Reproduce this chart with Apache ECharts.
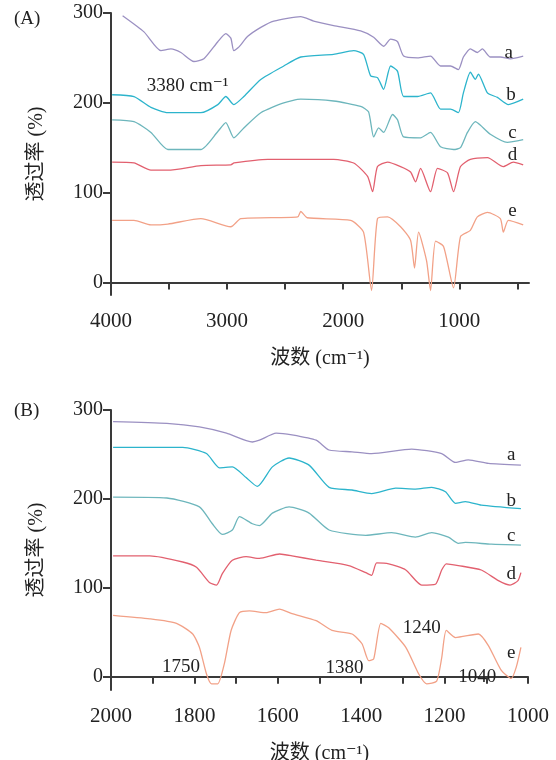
<!DOCTYPE html>
<html>
<head>
<meta charset="utf-8">
<script src="https://cdn.jsdelivr.net/npm/echarts@6/dist/echarts.min.js"></script>
<style>
  html, body { margin: 0; padding: 0; background: #fff; }
  #chart { width: 556px; height: 760px; }
</style>
</head>
<body>
<div id="chart"></div>
<script>
// ---- panel A: full spectra, 4000 - 400 cm-1 ----
const aWaveA = [3900, 3716, 3570, 3484, 3398, 3286, 3200, 3080, 3011, 2968, 2942, 2900, 2822, 2710, 2598, 2366, 2254, 2083, 1850, 1738, 1652, 1592, 1532, 1480, 1360, 1248, 1162, 1076, 1008, 965, 905, 845, 802, 733, 647, 560, 450];
const aValA = [297, 279, 258, 260, 256, 246, 249, 268, 277, 272, 258, 262, 274, 284, 291, 296, 291, 286, 280, 273, 263, 271, 268, 252, 250, 252, 241, 241, 237, 251, 260, 256, 260, 251, 251, 249, 252];

const bWaveA = [3990, 3802, 3656, 3510, 3226, 3080, 3011, 2942, 2856, 2710, 2512, 2366, 2083, 1910, 1825, 1764, 1705, 1652, 1592, 1532, 1480, 1360, 1248, 1162, 1076, 1008, 965, 905, 862, 836, 758, 672, 578, 450];
const bValA = [209, 207, 195, 189, 189, 198, 207, 198, 207, 226, 241, 251, 254, 258, 254, 230, 228, 215, 241, 235, 207, 207, 211, 193, 193, 189, 211, 234, 226, 232, 211, 206, 198, 204];

const cWaveA = [3990, 3802, 3656, 3510, 3226, 3080, 3011, 2942, 2856, 2710, 2512, 2366, 2083, 1850, 1782, 1738, 1695, 1652, 1575, 1532, 1480, 1334, 1248, 1162, 1050, 990, 930, 862, 818, 733, 587, 450];
const cValA = [181, 179, 167, 148, 148, 168, 178, 161, 172, 189, 200, 204, 202, 196, 190, 162, 172, 167, 187, 181, 162, 161, 167, 151, 148, 150, 167, 179, 175, 165, 156, 159];

const dWaveA = [3990, 3802, 3656, 3510, 3226, 2968, 2940, 2650, 2083, 1910, 1790, 1747, 1705, 1618, 1506, 1420, 1377, 1334, 1248, 1188, 1102, 1050, 990, 905, 758, 621, 535, 450];
const dValA = [134, 133, 125, 125, 130, 131, 133, 137, 137, 133, 118, 101, 129, 134, 129, 123, 112, 127, 101, 127, 122, 101, 129, 137, 139, 129, 134, 131];

const eWaveA = [3990, 3802, 3656, 3510, 3226, 2968, 2882, 2392, 2366, 2310, 1936, 1825, 1756, 1705, 1618, 1506, 1420, 1386, 1351, 1282, 1248, 1205, 1136, 1050, 990, 905, 845, 758, 647, 621, 578, 450];
const eValA = [69, 69, 64, 65, 71, 62, 71, 73, 79, 72, 69, 56, -9, 71, 73, 62, 47, 16, 56, 24, -9, 46, 40, -6, 51, 58, 73, 78, 71, 56, 69, 64];

// ---- panel B: zoomed 2000 - 1000 cm-1 ----
const aWaveB = [1995, 1866, 1788, 1723, 1661, 1644, 1604, 1566, 1508, 1477, 1422, 1375, 1279, 1207, 1174, 1143, 1095, 1017];
const aValB = [287, 285, 281, 274, 264, 266, 274, 272, 266, 255, 253, 251, 256, 251, 241, 244, 240, 238];

const bWaveB = [1995, 1828, 1771, 1740, 1709, 1676, 1649, 1613, 1573, 1525, 1477, 1422, 1375, 1317, 1270, 1231, 1198, 1174, 1150, 1112, 1017];
const bValB = [258, 258, 251, 235, 236, 224, 214, 236, 246, 238, 213, 210, 206, 212, 211, 213, 208, 195, 197, 193, 189];

const cWaveB = [1995, 1866, 1788, 1757, 1733, 1709, 1692, 1661, 1644, 1613, 1573, 1525, 1477, 1389, 1327, 1270, 1231, 1191, 1167, 1150, 1088, 1017];
const cValB = [202, 201, 191, 172, 160, 165, 180, 172, 170, 184, 191, 184, 165, 159, 162, 157, 162, 157, 150, 151, 149, 148];

const dWaveB = [1995, 1907, 1828, 1795, 1764, 1747, 1733, 1709, 1676, 1644, 1596, 1566, 1508, 1430, 1389, 1375, 1363, 1334, 1293, 1255, 1222, 1207, 1196, 1167, 1112, 1071, 1043, 1024, 1017];
const dValB = [136, 136, 129, 123, 106, 103, 116, 131, 135, 133, 138, 136, 131, 125, 117, 114, 128, 127, 120, 103, 104, 120, 127, 125, 120, 108, 103, 108, 117];

const eWaveB = [1995, 1907, 1843, 1804, 1788, 1771, 1759, 1744, 1728, 1712, 1692, 1668, 1628, 1596, 1566, 1508, 1470, 1422, 1398, 1382, 1370, 1353, 1334, 1293, 1262, 1243, 1219, 1207, 1196, 1174, 1119, 1095, 1064, 1040, 1028, 1017];
const eValB = [69, 65, 60, 48, 33, 3, -8, -8, 15, 52, 72, 74, 72, 76, 71, 63, 52, 48, 37, 18, 20, 60, 55, 33, 3, -8, -5, 21, 52, 44, 48, 35, 7, -2, 11, 33];

const names = ['a', 'b', 'c', 'd', 'e'];
const colors = ['#9b90c2', '#2cb4cc', '#6db6bc', '#e2606f', '#f2a187'];

// curve letters next to the right end (wavenumber, value)
const tagsA = [[575, 256], [555, 209], [543, 166], [543, 142], [543, 80]];
const tagsB = [[1040, 249], [1040, 198], [1040, 158], [1040, 116], [1040, 27]];

// peak notes
const notesA = [{ text: '3380 cm⁻¹', coord: [3340, 219] }];
const notesB = [
  { text: '1750', coord: [1832, 11] },
  { text: '1380', coord: [1440, 10] },
  { text: '1240', coord: [1255, 55] },
  { text: '1040', coord: [1122, 0] }
];

const zip = (xs, ys) => xs.map((x, i) => [x, ys[i]]);

const dataA = [zip(aWaveA, aValA), zip(bWaveA, bValA), zip(cWaveA, cValA), zip(dWaveA, dValA), zip(eWaveA, eValA)];
const dataB = [zip(aWaveB, aValB), zip(bWaveB, bValB), zip(cWaveB, cValB), zip(dWaveB, dValB), zip(eWaveB, eValB)];

const serif = '"Liberation Serif", "DejaVu Serif", "Noto Sans CJK SC", serif';
const axisColor = '#3a3a3a';
const textColor = '#222';

const makeX = (idx, min, max, ticks, labels) => ({
  gridIndex: idx,
  type: 'value',
  inverse: true,
  min: min,
  max: max,
  name: '波数 (cm⁻¹)',
  nameLocation: 'middle',
  nameGap: 54,
  nameTextStyle: { fontFamily: serif, fontSize: 20, color: textColor },
  axisLine: { lineStyle: { color: axisColor, width: 2 } },
  axisTick: { customValues: ticks, length: 7, lineStyle: { color: axisColor, width: 2 } },
  axisLabel: {
    customValues: labels, fontFamily: serif, fontSize: 21, color: textColor, margin: 16,
    formatter: v => String(v)
  },
  splitLine: { show: false }
});

const makeY = (idx, min) => ({
  gridIndex: idx,
  type: 'value',
  min: min,
  max: 300,
  name: '透过率 (%)',
  nameLocation: 'middle',
  nameGap: 64,
  nameTextStyle: { fontFamily: serif, fontSize: 20, color: textColor },
  axisLine: { show: true, lineStyle: { color: axisColor, width: 2 } },
  axisTick: { customValues: [0, 100, 200, 300], length: 8, lineStyle: { color: axisColor, width: 2 } },
  axisLabel: {
    customValues: [0, 100, 200, 300], fontFamily: serif, fontSize: 20, color: textColor, margin: 8,
    formatter: v => String(v)
  },
  splitLine: { show: false }
});

const textPoint = (coord, text, size) => ({
  coord: coord,
  symbol: 'circle',
  symbolSize: 0,
  label: { show: true, position: 'inside', formatter: text, fontFamily: serif, fontSize: size, color: textColor }
});

const series = [];
[dataA, dataB].forEach((set, g) => {
  set.forEach((pts, i) => {
    const tag = (g === 0 ? tagsA : tagsB)[i];
    const marks = [textPoint(tag, names[i], 19)];
    if (i === 1 && g === 0) {
      notesA.forEach(n => marks.push(textPoint(n.coord, n.text, 19)));
    }
    if (i === 4 && g === 1) {
      notesB.forEach(n => marks.push(textPoint(n.coord, n.text, 19)));
    }
    series.push({
      name: names[i] + (g === 0 ? 'A' : 'B'),
      type: 'line',
      xAxisIndex: g,
      yAxisIndex: g,
      data: pts,
      showSymbol: false,
      smooth: 0.2,
      lineStyle: { color: colors[i], width: 1.3 },
      itemStyle: { color: colors[i] },
      markPoint: { silent: true, data: marks },
      animation: false
    });
  });
});

const chart = echarts.init(document.getElementById('chart'), null, { renderer: 'canvas' });

chart.setOption({
  backgroundColor: '#fff',
  animation: false,
  grid: [
    { left: 111, right: 27, top: 13, height: 282, outerBoundsMode: 'none', containLabel: false },
    { left: 111, right: 28, top: 410, height: 280, outerBoundsMode: 'none', containLabel: false }
  ],
  xAxis: [
    makeX(0, 400, 4000, [4000, 3500, 3000, 2500, 2000, 1500, 1000, 500], [4000, 3000, 2000, 1000]),
    makeX(1, 1000, 2000, [2000, 1900, 1800, 1700, 1600, 1500, 1400, 1300, 1200, 1100, 1000], [2000, 1800, 1600, 1400, 1200, 1000])
  ],
  yAxis: [makeY(0, -14), makeY(1, -15)],
  graphic: [
    { type: 'text', left: 14, top: 10, style: { text: '(A)', font: '19px ' + serif, fill: textColor } },
    { type: 'text', left: 14, top: 402, style: { text: '(B)', font: '19px ' + serif, fill: textColor } }
  ],
  series: series
});
</script>
</body>
</html>
